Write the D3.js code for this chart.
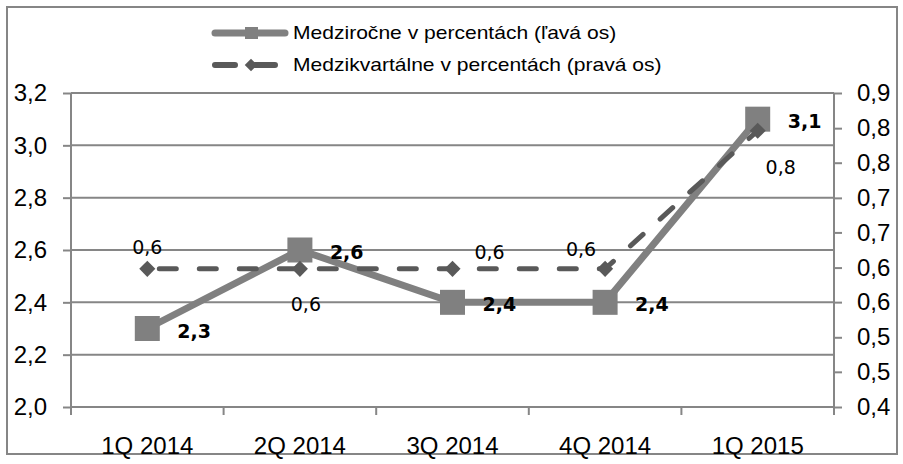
<!DOCTYPE html>
<html>
<head>
<meta charset="utf-8">
<script src="https://cdn.jsdelivr.net/npm/d3@7"></script>
<style>
  body { margin: 0; background: #fff; }
  text { font-family: "Liberation Sans", Arial, sans-serif; }
  .lbl { font-family: "DejaVu Sans", Verdana, sans-serif; }
</style>
</head>
<body>
<script>
// data
const quarters = ['1Q 2014', '2Q 2014', '3Q 2014', '4Q 2014', '1Q 2015'];
const yoy = [2.3, 2.6, 2.4, 2.4, 3.1];          // left axis
const qoq = [0.62, 0.62, 0.62, 0.62, 0.84];     // right axis
const leftTicks = [2.0, 2.2, 2.4, 2.6, 2.8, 3.0, 3.2];
const rightTicks = [0.4, 0.456, 0.511, 0.567, 0.622, 0.678, 0.733, 0.789, 0.844, 0.9];
const seriesNames = ['Medziročne v percentách (ľavá os)', 'Medzikvartálne v percentách (pravá os)'];

const W = 903, H = 464;
const plot = { left: 71, right: 834, top: 93, bottom: 407 };
const solidColor = '#808080', dashColor = '#595959', gridColor = '#868686';
const comma = v => d3.format('.1f')(v).replace('.', ',');

const svg = d3.select('body').append('svg')
    .attr('width', W)
    .attr('height', H);

// outer frame
svg.append('rect')
    .attr('x', 7).attr('y', 7)
    .attr('width', 890).attr('height', 447)
    .attr('fill', 'none')
    .attr('stroke', gridColor)
    .attr('stroke-width', 2);

const x = d3.scaleBand().domain(quarters).range([plot.left, plot.right]);
const yL = d3.scaleLinear().domain([2.0, 3.2]).range([plot.bottom, plot.top]);
const yR = d3.scaleLinear().domain([0.4, 0.9]).range([plot.bottom, plot.top]);
const cx = d => x(d) + x.bandwidth() / 2;

// gridlines
svg.append('g').selectAll('line')
    .data(leftTicks)
    .enter().append('line')
    .attr('x1', plot.left).attr('x2', plot.right)
    .attr('y1', d => yL(d)).attr('y2', d => yL(d))
    .attr('stroke', gridColor)
    .attr('stroke-width', 2);

// left axis
const leftAxis = svg.append('g')
    .attr('transform', `translate(${plot.left},0)`)
    .call(d3.axisLeft(yL).tickValues(leftTicks).tickSize(8).tickPadding(16).tickFormat(comma));

// right axis
const rightAxis = svg.append('g')
    .attr('transform', `translate(${plot.right},0)`)
    .call(d3.axisRight(yR).tickValues(rightTicks).tickSize(8).tickPadding(15).tickFormat(comma));

// bottom axis, ticks at the band edges
const bottomAxis = svg.append('g')
    .attr('transform', `translate(0,${plot.bottom})`)
    .call(d3.axisBottom(x).tickSize(0).tickPadding(30));
bottomAxis.selectAll('.edge')
    .data(quarters.concat(['end']))
    .enter().append('line')
    .attr('class', 'edge')
    .attr('x1', (d, i) => plot.left + i * x.bandwidth())
    .attr('x2', (d, i) => plot.left + i * x.bandwidth())
    .attr('y1', 0).attr('y2', 8);

[leftAxis, rightAxis, bottomAxis].forEach(g => {
    g.select('.domain').attr('stroke', gridColor).attr('stroke-width', 2);
    g.selectAll('line').attr('stroke', gridColor).attr('stroke-width', 2);
    g.selectAll('text').attr('fill', '#000').style('font-size', '24px')
        .style('font-family', '"Liberation Sans", Arial, sans-serif');
});
bottomAxis.select('.domain').remove();
bottomAxis.append('line')
    .attr('x1', plot.left).attr('x2', plot.right)
    .attr('stroke', gridColor).attr('stroke-width', 2);
leftAxis.select('.domain').attr('d', `M-0,${plot.top}V${plot.bottom + 6}`);
rightAxis.select('.domain').attr('d', `M0,${plot.top}V${plot.bottom + 6}`);

// solid series (left axis)
const lineL = d3.line().x((d, i) => cx(quarters[i])).y(d => yL(d));
svg.append('path')
    .datum(yoy)
    .attr('d', lineL)
    .attr('fill', 'none')
    .attr('stroke', solidColor)
    .attr('stroke-width', 7);
svg.append('g').selectAll('rect')
    .data(yoy)
    .enter().append('rect')
    .attr('x', (d, i) => cx(quarters[i]) - 12.5)
    .attr('y', d => yL(d) - 12.5)
    .attr('width', 25).attr('height', 25)
    .attr('fill', solidColor);

// dashed series (right axis)
const lineR = d3.line().x((d, i) => cx(quarters[i])).y(d => yR(d));
svg.append('path')
    .datum(qoq)
    .attr('d', lineR)
    .attr('fill', 'none')
    .attr('stroke', dashColor)
    .attr('stroke-width', 5)
    .attr('stroke-linecap', 'round')
    .attr('stroke-dasharray', '17,23')
    .attr('stroke-dashoffset', -12);
const diamond = d3.symbol().type(d3.symbolDiamond2).size(165);
svg.append('g').selectAll('path')
    .data(qoq)
    .enter().append('path')
    .attr('d', diamond)
    .attr('transform', (d, i) => `translate(${cx(quarters[i])},${yR(d)})`)
    .attr('fill', dashColor);

// data labels
svg.append('g').selectAll('text')
    .data(yoy)
    .enter().append('text')
    .attr('class', 'lbl')
    .attr('x', (d, i) => cx(quarters[i]) + 30)
    .attr('y', d => yL(d) + 9)
    .style('font-size', '19px')
    .style('font-weight', 'bold')
    .text(comma);

const qoqOffsets = [[0, -22], [6, 35], [37, -17], [-24, -20], [23, 36]];
svg.append('g').selectAll('text')
    .data(qoq)
    .enter().append('text')
    .attr('class', 'lbl')
    .attr('text-anchor', 'middle')
    .attr('x', (d, i) => cx(quarters[i]) + qoqOffsets[i][0])
    .attr('y', (d, i) => yR(d) + qoqOffsets[i][1] + 7)
    .style('font-size', '19px')
    .text(comma);

// legend
const legend = svg.append('g');
legend.append('line')
    .attr('x1', 215).attr('x2', 285).attr('y1', 33).attr('y2', 33)
    .attr('stroke', solidColor).attr('stroke-width', 7).attr('stroke-linecap', 'round');
legend.append('rect')
    .attr('x', 245).attr('y', 27).attr('width', 13).attr('height', 12)
    .attr('fill', solidColor);
legend.append('line')
    .attr('x1', 215).attr('x2', 276).attr('y1', 65).attr('y2', 65)
    .attr('stroke', dashColor).attr('stroke-width', 6).attr('stroke-linecap', 'round')
    .attr('stroke-dasharray', '20,20');
legend.append('path')
    .attr('d', d3.symbol().type(d3.symbolDiamond2).size(100))
    .attr('transform', 'translate(251,65)')
    .attr('fill', dashColor);
legend.selectAll('text.name')
    .data(seriesNames)
    .enter().append('text')
    .attr('class', 'name')
    .attr('transform', (d, i) => `translate(293,${39 + i * 32}) scale(1.17,1)`)
    .style('font-size', '18px')
    .text(d => d);
</script>
</body>
</html>
